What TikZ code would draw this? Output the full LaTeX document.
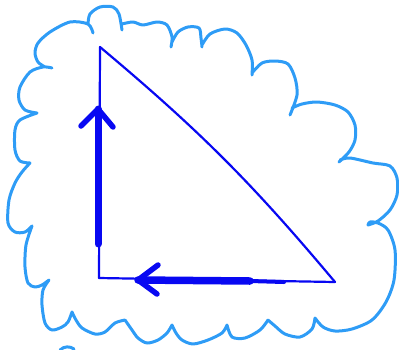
\documentclass[tikz,border=0pt]{standalone}
\usepackage{tikz}
\usetikzlibrary{arrows.meta}
\definecolor{skyline}{HTML}{2E9CF6}
\definecolor{penblue}{HTML}{0808F2}

\begin{document}
\begin{tikzpicture}[x=1pt, y=-1pt,
    cloud/.style={draw=skyline, line width=3pt, line cap=round, line join=round},
    edge/.style={draw=penblue, line width=2.2pt, line cap=round, line join=round},
    shaft/.style={draw=penblue, line width=7pt, line cap=round},
    barb/.style={draw=penblue, line width=5.5pt, line cap=round, line join=round}
  ]
    \useasboundingbox (0,0) rectangle (399,349);
    % cloud outline, one scallop per plot
    \draw[cloud]
      plot[smooth] coordinates {(88,24) (90,14) (100,7) (113,7) (119,14) (122,30)}
      plot[smooth] coordinates {(122,24) (133,22) (143,25) (157,22) (167,25) (172,37) (171,47)}
      plot[smooth] coordinates {(172,42) (178,32) (188,27) (199,28) (201,38) (202,47)}
      plot[smooth] coordinates {(202,45) (210,34) (225,29) (237,33) (246,45) (252,60) (252,75)}
      plot[smooth] coordinates {(252,73) (262,63) (275,61) (288,64) (295,78) (297,95) (290,115)}
      plot[smooth] coordinates {(292,108) (302,104) (317,102) (335,105) (348,112) (355,125) (355,140) (349,152) (339,162)}
      plot[smooth] coordinates {(340,160) (350,158) (373,163) (390,166) (397,178) (397,195) (390,210) (378,221) (368,225)}
      plot[smooth] coordinates {(368,225) (370,222) (378,223) (388,230) (395,250) (394,280) (386,302) (372,320) (352,329) (335,331) (323,327) (315,318)}
      plot[smooth] coordinates {(315,318) (312,329) (300,337) (285,334) (275,326) (268,320)}
      plot[smooth] coordinates {(268,320) (260,330) (245,338) (232,337) (227,325)}
      plot[smooth] coordinates {(227,325) (222,333) (208,340) (193,344) (182,340) (176,333) (172,325)}
      plot[smooth] coordinates {(172,325) (167,333) (158,340) (147,343) (138,338) (132,330) (125,320)}
      plot[smooth] coordinates {(125,320) (115,323) (105,332) (95,334) (82,328) (76,320) (72,312)}
      plot[smooth] coordinates {(72,312) (68,322) (62,327) (52,330) (45,323) (42,305) (43,290) (49,280)}
      plot[smooth] coordinates {(49,280) (42,285) (35,287) (28,283) (25,267) (26,245) (32,226)}
      plot[smooth] coordinates {(32,226) (25,232) (15,232) (8,223) (9,200) (15,183) (22,172) (30,163)}
      plot[smooth] coordinates {(30,163) (20,161) (15,150) (15,130) (20,120) (37,113)}
      plot[smooth] coordinates {(37,113) (25,110) (19,100) (20,87) (30,72) (43,67) (52,68)}
      plot[smooth] coordinates {(45,67) (38,62) (35,53) (38,43) (50,32) (70,22) (88,24) (93,33)};
    \draw[cloud] (60,350) .. controls (64,346) and (70,346) .. (74,349);

    % triangle
    \coordinate (apex) at (100,47);
    \coordinate (corner) at (99,278);
    \coordinate (tip) at (335,282);
    \draw[edge] (corner) -- (apex);
    \draw[edge] (apex) to[bend left=5] (tip);
    \draw[edge] (tip) -- (corner);

    % upward arrow
    \coordinate (vbase) at (98,244);
    \coordinate (vhead) at (98,109);
    \coordinate (vleft) at (81,126);
    \coordinate (vright) at (113,127);
    \draw[shaft] (vbase) -- (vhead);
    \draw[barb] (vleft) -- (vhead) -- (vright);

    % leftward arrow
    \coordinate (hbase) at (284,282);
    \coordinate (hmid) at (250,281);
    \coordinate (hhead) at (138,280);
    \coordinate (hup) at (158,265);
    \coordinate (hdown) at (157,294);
    \draw[shaft, line width=4pt] (hbase) -- (hmid);
    \draw[shaft, line width=7.5pt] (hmid) -- (hhead);
    \draw[barb] (hup) -- (hhead) -- (hdown);
\end{tikzpicture}
\end{document}
